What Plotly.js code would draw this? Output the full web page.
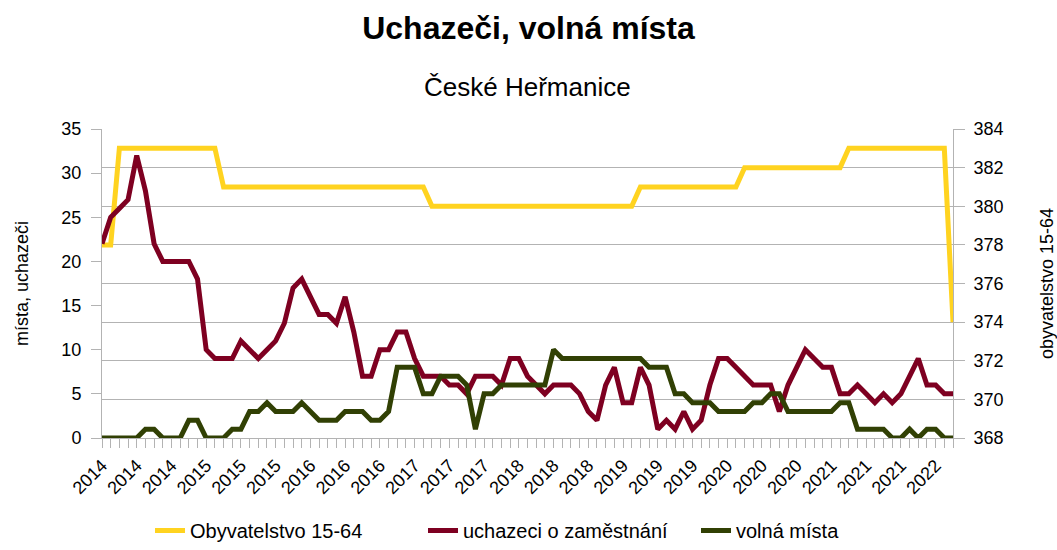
<!DOCTYPE html>
<html>
<head>
<meta charset="utf-8">
<script src="https://cdn.plot.ly/plotly-3.0.1.min.js"></script>
<style>
html,body{margin:0;padding:0;background:#fff;}
#chart{width:1057px;height:550px;}
</style>
</head>
<body>
<div id="chart"></div>
<script>
// Monthly observations, Jan 2014 .. Mar 2022 (99 months)
const tickLabels = ["2014","2014","2014","2015","2015","2015","2016","2016","2016",
  "2017","2017","2017","2018","2018","2018","2019","2019","2019",
  "2020","2020","2020","2021","2021","2021","2022"];

const obyvatelstvo = [378,378,
  383,383,383,383,383,383,383,383,383,383,383,383,
  381,381,381,381,381,381,381,381,381,381,381,381,381,381,381,381,381,381,381,381,381,381,381,381,
  380,380,380,380,380,380,380,380,380,380,380,380,380,380,380,380,380,380,380,380,380,380,380,380,
  381,381,381,381,381,381,381,381,381,381,381,381,
  382,382,382,382,382,382,382,382,382,382,382,382,
  383,383,383,383,383,383,383,383,383,383,383,383,
  374];

const uchazeci = [22,25,26,27,32,28,22,20,20,20,
  20,18,10,9,9,9,11,10,9,10,
  11,13,17,18,16,14,14,13,16,12,
  7,7,10,10,12,12,9,7,7,7,
  6,6,5,7,7,7,6,9,9,7,
  6,5,6,6,6,5,3,2,6,8,
  4,4,8,6,1,2,1,3,1,2,
  6,9,9,8,7,6,6,6,3,6,
  8,10,9,8,8,5,5,6,5,4,
  5,4,5,7,9,6,6,5,5];

const volnaMista = [0,0,0,0,0,1,1,0,0,0,
  2,2,0,0,0,1,1,3,3,4,
  3,3,3,4,3,2,2,2,3,3,
  3,2,2,3,8,8,8,5,5,7,
  7,7,6,1,5,5,6,6,6,6,
  6,6,10,9,9,9,9,9,9,9,
  9,9,9,8,8,8,5,5,4,4,
  4,3,3,3,3,4,4,5,5,3,
  3,3,3,3,3,4,4,1,1,1,
  1,0,0,1,0,1,1,0,0];

const idx = obyvatelstvo.map((_, i) => i);
const tickvals = tickLabels.map((_, k) => k * 4);

const gray = '#b3b3b3';
const FONT = '"Liberation Sans", Arial, sans-serif';

const traces = [
  {x: idx, y: obyvatelstvo, name: 'Obyvatelstvo 15-64', type: 'scatter', mode: 'lines',
   yaxis: 'y', line: {color: '#ffd320', width: 5}},
  {x: idx, y: uchazeci, name: 'uchazeci o zaměstnání', type: 'scatter', mode: 'lines',
   yaxis: 'y2', line: {color: '#7e0021', width: 5}},
  {x: idx, y: volnaMista, name: 'volná místa', type: 'scatter', mode: 'lines',
   yaxis: 'y2', line: {color: '#314004', width: 5}}
];

const layout = {
  width: 1057, height: 550,
  margin: {l: 102, r: 104, t: 129, b: 112, pad: 0},
  paper_bgcolor: '#ffffff', plot_bgcolor: '#ffffff',
  font: {family: FONT, color: '#000', size: 18},
  showlegend: true,
  title: {text: '<b>Uchazeči, volná místa</b>', x: 0.5, xref: 'container', xanchor: 'center',
          y: 1 - 28/550, yref: 'container', yanchor: 'middle', font: {family: FONT, size: 32, color: '#000'}},
  annotations: [{text: 'České Heřmanice', xref: 'paper', yref: 'paper', x: 0.5, y: (438-87)/309,
                 xanchor: 'center', yanchor: 'middle', showarrow: false, font: {family: FONT, size: 26, color: '#000'}}],
  xaxis: {
    range: [0, 98], tickmode: 'array', tickvals: tickvals, ticktext: tickLabels, tickangle: -45,
    ticks: 'outside', ticklen: 9, tickcolor: gray, tickwidth: 1,
    showline: true, linecolor: gray, linewidth: 1, showgrid: false, zeroline: false,
    tickfont: {family: FONT, size: 18, color: '#000'}, automargin: false,
    minor: {tickmode: 'linear', tick0: 0, dtick: 1, ticks: 'outside', ticklen: 9, tickcolor: gray, tickwidth: 1, showgrid: false}
  },
  yaxis: {
    side: 'right', range: [368, 384], tickmode: 'linear', tick0: 368, dtick: 2,
    ticks: 'outside', ticklen: 11, tickcolor: gray, ticklabelstandoff: 5,
    showline: true, linecolor: gray, linewidth: 1,
    showgrid: true, gridcolor: gray, gridwidth: 1, zeroline: false,
    tickfont: {family: FONT, size: 18, color: '#000'}, automargin: false,
    title: {text: 'obyvatelstvo 15-64', standoff: 38, font: {family: FONT, size: 18, color: '#000'}}
  },
  yaxis2: {
    overlaying: 'y', side: 'left', range: [0, 35], tickmode: 'linear', tick0: 0, dtick: 5,
    ticks: 'outside', ticklen: 10, tickcolor: gray, ticklabelstandoff: 6,
    showline: true, linecolor: gray, linewidth: 1,
    showgrid: false, zeroline: false,
    tickfont: {family: FONT, size: 18, color: '#000'}, automargin: false,
    title: {text: 'místa, uchazeči', standoff: 28, font: {family: FONT, size: 18, color: '#000'}}
  },
  legend: {orientation: 'h', xref: 'paper', x: (150-102)/851, xanchor: 'left',
           yref: 'container', y: -0.035, yanchor: 'bottom',
           entrywidth: 228, entrywidthmode: 'pixels',
           font: {family: FONT, size: 20, color: '#000'}, bgcolor: 'rgba(0,0,0,0)', traceorder: 'normal'}
};

Plotly.newPlot('chart', traces, layout, {staticPlot: true, displayModeBar: false});
</script>
</body>
</html>
